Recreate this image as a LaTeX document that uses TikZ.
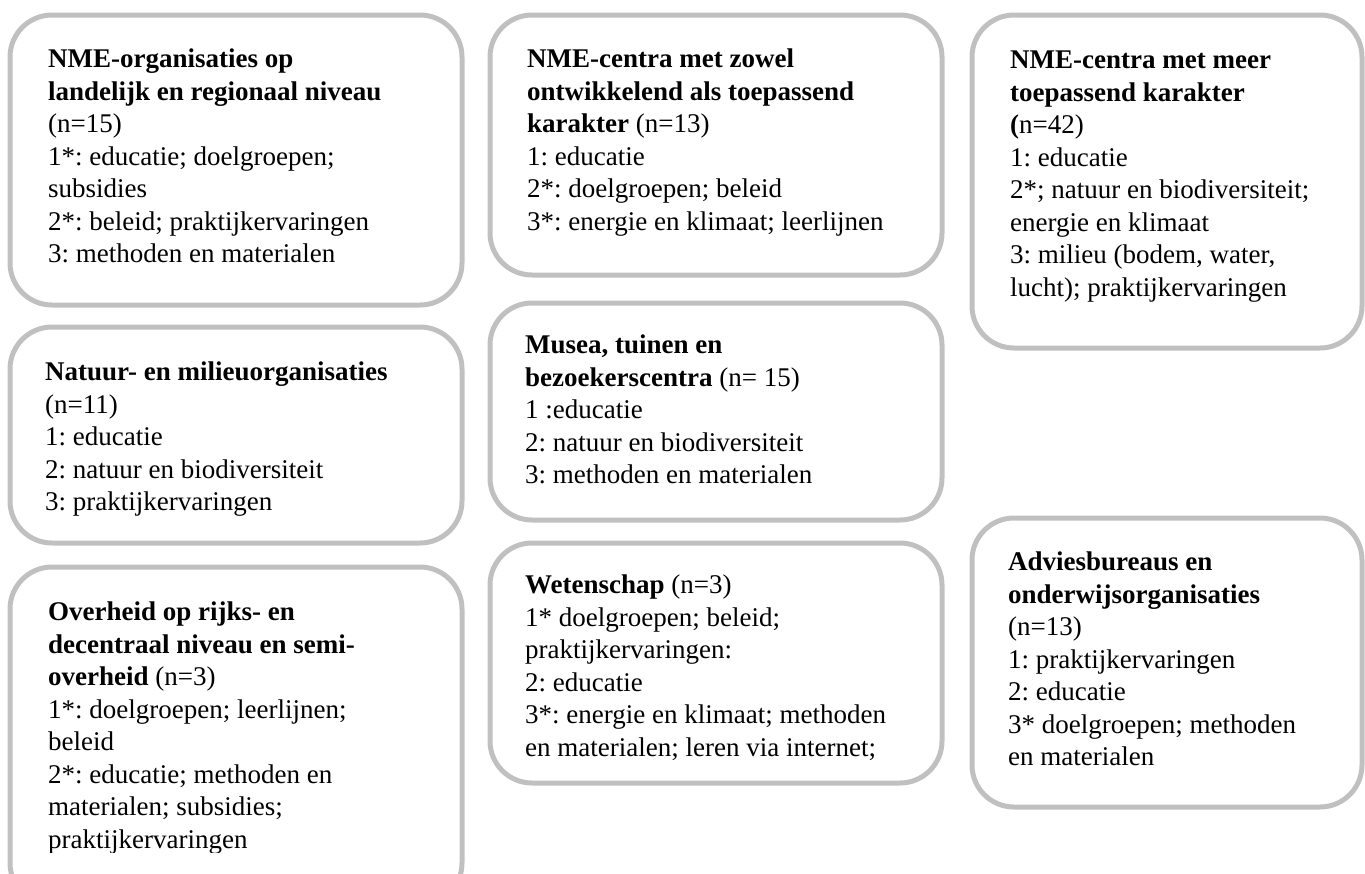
\documentclass[tikz,border=0pt]{standalone}
\usepackage{fontspec}
\setmainfont{Liberation Serif}
\frenchspacing
\definecolor{cardgray}{RGB}{192,192,192}
\tikzset{
  card/.style={draw=cardgray, line width=5pt, rounded corners=42pt},
  txt/.style={anchor=north west, inner sep=0pt, align=left,
              font=\fontsize{27}{32.5}\selectfont},
}
\begin{document}
\begin{tikzpicture}[x=1pt,y=-1pt]
\path[use as bounding box, clip] (0,0) rectangle (1365,873);
%
\draw[card] (10,15)  rectangle (462,305);
\draw[card] (490,15) rectangle (942,275);
\draw[card] (972,15) rectangle (1362,348);
\draw[card] (10,327) rectangle (462,543);
\draw[card] (10,567) rectangle (462,905);
\draw[card] (490,303) rectangle (942,520);
\draw[card] (490,543) rectangle (942,783);
\draw[card] (972,518) rectangle (1362,807);
%
\node[txt] (landelijk) at (48,45) {\strut\textbf{NME-organisaties op}\\
  \textbf{landelijk en regionaal niveau}\\
  (n=15)\\
  1*: educatie; doelgroepen;\\
  subsidies\\
  2*: beleid; praktijkervaringen\\
  3: methoden en materialen};
\node[txt] (zowel) at (527,45) {\strut\textbf{NME-centra met zowel}\\
  \textbf{ontwikkelend als toepassend}\\
  \textbf{karakter} (n=13)\\
  1: educatie\\
  2*: doelgroepen; beleid\\
  3*: energie en klimaat; leerlijnen};
\node[txt] (toepassend) at (1010,46) {\strut\textbf{NME-centra met meer}\\
  \textbf{toepassend karakter}\\
  \textbf{(}n=42)\\
  1: educatie\\
  2*; natuur en biodiversiteit;\\
  energie en klimaat\\
  3: milieu (bodem, water,\\
  lucht); praktijkervaringen};
\node[txt] (natuur) at (45,358) {\strut\textbf{Natuur- en milieuorganisaties}\\
  (n=11)\\
  1: educatie\\
  2: natuur en biodiversiteit\\
  3: praktijkervaringen};
\begin{scope}
\clip (10,567) rectangle (462,852);
\node[txt] (overheid) at (48,598) {\strut\textbf{Overheid op rijks- en}\\
  \textbf{decentraal niveau en semi-}\\
  \textbf{overheid} (n=3)\\
  1*: doelgroepen; leerlijnen;\\
  beleid\\
  2*: educatie; methoden en\\
  materialen; subsidies;\\
  praktijkervaringen};
\end{scope}
\node[txt] (musea) at (525,331) {\strut\textbf{Musea, tuinen en}\\
  \textbf{bezoekerscentra} (n= 15)\\
  1 :educatie\\
  2: natuur en biodiversiteit\\
  3: methoden en materialen};
\node[txt] (wetenschap) at (525,571) {\strut\textbf{Wetenschap} (n=3)\\
  1* doelgroepen; beleid;\\
  praktijkervaringen:\\
  2: educatie\\
  3*: energie en klimaat; methoden\\
  en materialen; leren via internet;};
\node[txt] (advies) at (1008,548) {\strut\textbf{Adviesbureaus en}\\
  \textbf{onderwijsorganisaties}\\
  (n=13)\\
  1: praktijkervaringen\\
  2: educatie\\
  3* doelgroepen; methoden\\
  en materialen};
\end{tikzpicture}
\end{document}
